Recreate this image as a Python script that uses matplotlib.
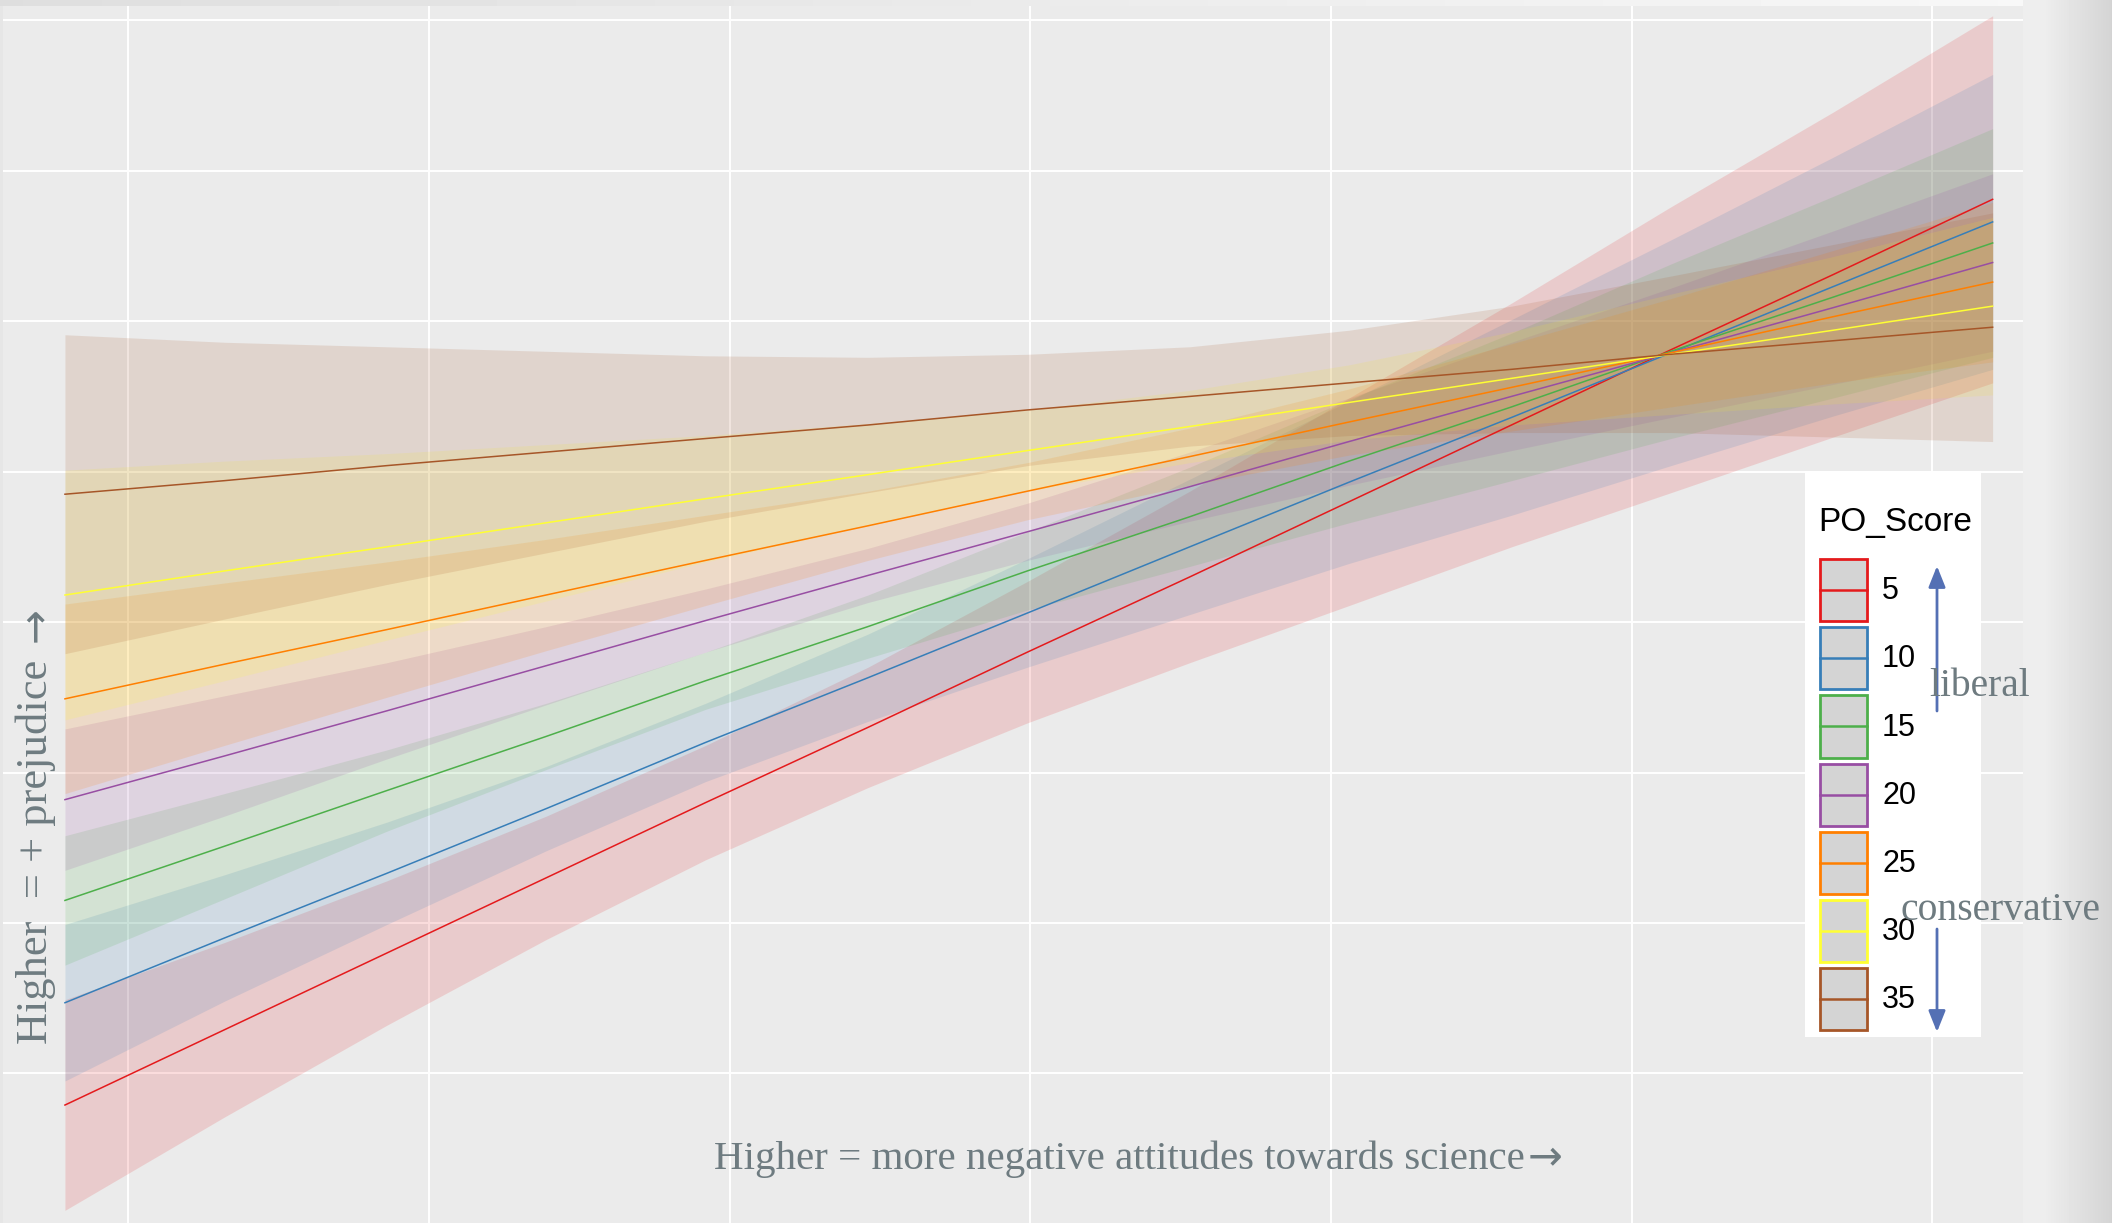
import numpy as np
import matplotlib.pyplot as plt
from matplotlib.patches import Patch, FancyArrowPatch, Rectangle
from matplotlib.lines import Line2D
from matplotlib.legend_handler import HandlerBase

W, H = 2112, 1223

# PO_Score groups and Set1 colours
po_scores = ['5', '10', '15', '20', '25', '30', '35']
colors = ['#E41A1C', '#377EB8', '#4DAF4A', '#984EA3', '#FF7F00', '#FFFF33', '#A65628']

# attitudes towards science (x) where the fits / bands were read
sci = [0.79, 1.32, 1.86, 2.39, 2.92, 3.46, 3.99, 4.53, 5.06, 5.60, 6.13, 6.67, 7.20]

# fitted prejudice, one row per PO_Score
fit = [
    [0.79, 1.29, 1.80, 2.30, 2.80, 3.30, 3.80, 4.30, 4.80, 5.31, 5.81, 6.31, 6.81],
    [1.47, 1.90, 2.33, 2.76, 3.20, 3.63, 4.06, 4.50, 4.93, 5.36, 5.79, 6.23, 6.66],
    [2.15, 2.51, 2.88, 3.24, 3.61, 3.97, 4.34, 4.70, 5.07, 5.43, 5.80, 6.16, 6.52],
    [2.82, 3.11, 3.41, 3.71, 4.01, 4.31, 4.60, 4.90, 5.20, 5.50, 5.79, 6.09, 6.39],
    [3.49, 3.72, 3.95, 4.18, 4.41, 4.64, 4.87, 5.10, 5.33, 5.56, 5.79, 6.03, 6.26],
    [4.18, 4.34, 4.50, 4.66, 4.82, 4.98, 5.14, 5.30, 5.46, 5.62, 5.78, 5.94, 6.10],
    [4.85, 4.94, 5.04, 5.13, 5.22, 5.31, 5.41, 5.50, 5.59, 5.68, 5.78, 5.87, 5.96],
]

# half width of the confidence band
half = [
    [0.70, 0.58, 0.48, 0.41, 0.38, 0.40, 0.47, 0.57, 0.69, 0.81, 0.95, 1.08, 1.22],
    [0.52, 0.42, 0.34, 0.28, 0.26, 0.29, 0.36, 0.45, 0.54, 0.65, 0.75, 0.86, 0.98],
    [0.43, 0.35, 0.27, 0.22, 0.19, 0.21, 0.26, 0.33, 0.41, 0.49, 0.58, 0.67, 0.76],
    [0.47, 0.40, 0.32, 0.26, 0.21, 0.18, 0.19, 0.23, 0.29, 0.36, 0.43, 0.51, 0.59],
    [0.63, 0.54, 0.45, 0.37, 0.30, 0.23, 0.19, 0.19, 0.22, 0.29, 0.36, 0.44, 0.53],
    [0.83, 0.73, 0.62, 0.52, 0.42, 0.34, 0.27, 0.24, 0.25, 0.31, 0.40, 0.49, 0.59],
    [1.06, 0.92, 0.79, 0.67, 0.55, 0.45, 0.37, 0.33, 0.35, 0.42, 0.52, 0.64, 0.76],
]


def fx(px):
    return px / W


def fy(py):
    return 1 - py / H


class KeyHandler(HandlerBase):
    # grey ggplot key with coloured outline and a line through the middle
    def create_artists(self, legend, orig_handle, xdescent, ydescent,
                       width, height, fontsize, trans):
        c = orig_handle.get_edgecolor()
        box = Rectangle((-xdescent, -ydescent), width, height, facecolor='#D4D4D4',
                        edgecolor=c, lw=2, transform=trans)
        mid = -ydescent + height / 2
        line = Line2D([-xdescent, -xdescent + width], [mid, mid], color=c, lw=1.8,
                      transform=trans)
        return [box, line]


fig = plt.figure(figsize=(W / 100, H / 100), dpi=100)

# slide background behind the plot
bg = fig.add_axes([0, 0, 1, 1], zorder=-10)
cols = np.arange(W)
shade = np.interp(cols, [0, 2023, 2045, W], [0.90, 0.93, 0.93, 0.83])
img = np.tile(shade, (H, 1))
img[:6, :2023] = np.interp(cols[:2023], [0, 2023], [0.87, 0.97])
bg.imshow(img, cmap='gray', vmin=0, vmax=1, aspect='auto')
bg.axis('off')

# ggplot-like panel
ax = fig.add_axes([fx(3), 0, (2023 - 3) / W, (H - 6) / H])
ax.set_facecolor('#EBEBEB')
ax.set_xlim(0.584, 7.301)
ax.set_ylim(0.006, 8.095)
ax.set_xticks(range(1, 8))
ax.set_yticks(range(1, 9))
ax.grid(color='white', lw=1.4)
ax.set_axisbelow(True)
ax.tick_params(length=0, labelbottom=False, labelleft=False)
for s in ax.spines.values():
    s.set_visible(False)

for c, f, h in zip(colors, fit, half):
    f = np.array(f)
    h = np.array(h)
    ax.fill_between(sci, f - h, f + h, color=c, alpha=0.15, lw=0)
for c, f in zip(colors, fit):
    ax.plot(sci, f, color=c, lw=1.1)

# legend: white box, title, keys
fig.add_artist(Rectangle((fx(1805), fy(1037)), (1981 - 1805) / W, (1037 - 471) / H,
                         transform=fig.transFigure, facecolor='white', lw=0, zorder=1.5))
fig.text(fx(1818), fy(531), 'PO_Score', ha='left', va='baseline', fontsize=24,
         family='Liberation Sans', color='black', zorder=4)
handles = [Patch(facecolor='#D4D4D4', edgecolor=c) for c in colors]
fig.legend(handles, po_scores, loc='upper left', bbox_to_anchor=(fx(1820), fy(559)),
           borderaxespad=0, borderpad=0, frameon=False,
           handler_map={Patch: KeyHandler()},
           prop={'family': 'Liberation Sans', 'size': 22},
           handlelength=1.53, handleheight=2.75, handletextpad=0.5,
           labelspacing=0.2)

# axis titles and notes
gray = '#6E7B80'
serif = ['Liberation Serif', 'DejaVu Serif']
fig.text(fx(714), fy(1169), 'Higher = more negative attitudes towards science',
         ha='left', va='baseline', fontsize=29.5, color=gray, family=serif)
fig.text(fx(1528), fy(1169), '→', ha='left', va='baseline', fontsize=30,
         color=gray, family='DejaVu Sans')
fig.text(fx(47), fy(1044), 'Higher  = + prejudice', rotation=90, rotation_mode='anchor',
         ha='left', va='baseline', fontsize=32, color=gray, family=serif)
fig.text(fx(47), fy(642), '→', rotation=90, rotation_mode='anchor',
         ha='left', va='baseline', fontsize=30, color=gray, family='DejaVu Sans')
fig.text(fx(1929), fy(687), 'liberal', ha='left', va='center',
         fontsize=28.5, color=gray, family=serif, zorder=6)
fig.text(fx(1900), fy(911), 'conservative', ha='left', va='center',
         fontsize=28.5, color=gray, family=serif, zorder=6)

arrow_kw = dict(transform=fig.transFigure, arrowstyle='-|>,head_length=0.8,head_width=0.32',
                color='#5470B4', lw=2.0, mutation_scale=16, shrinkA=0, shrinkB=0, zorder=6)
fig.add_artist(FancyArrowPatch((fx(1937), fy(711)), (fx(1937), fy(566)), **arrow_kw))
fig.add_artist(FancyArrowPatch((fx(1937), fy(929)), (fx(1937), fy(1032)), **arrow_kw))

fig.savefig('out.png', dpi=100)
